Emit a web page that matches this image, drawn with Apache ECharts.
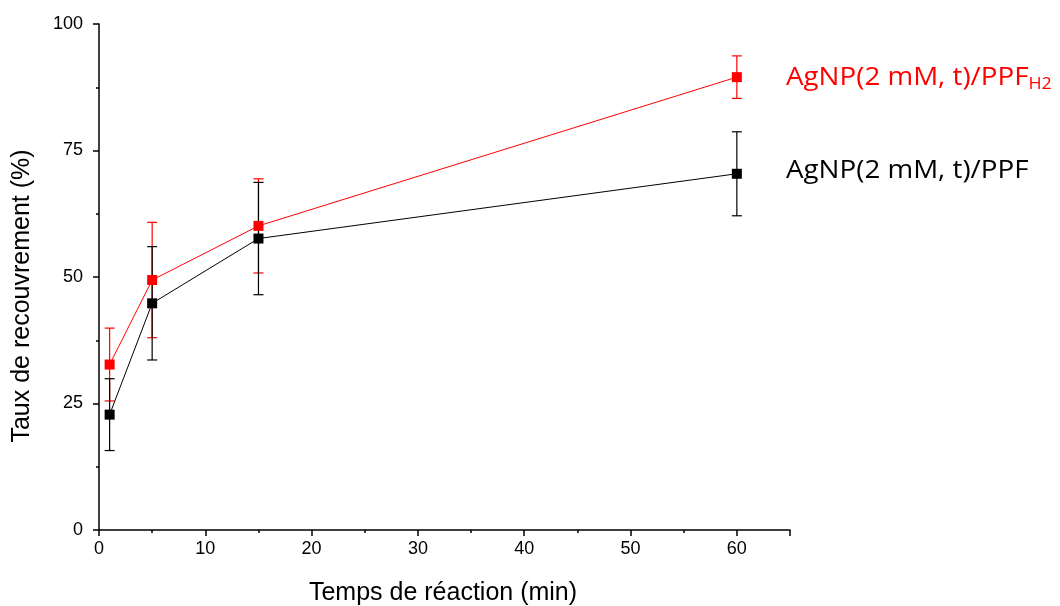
<!DOCTYPE html>
<html><head><meta charset="utf-8">
<script src="https://cdn.jsdelivr.net/npm/echarts@6/dist/echarts.min.js"></script>
<style>html,body{margin:0;padding:0;background:#fff}#c{width:1060px;height:606px}</style>
</head><body><div id="c"></div>
<script>
const times = [1, 5, 15, 60];
const ppfH2 = [32.7, 49.4, 60.1, 89.5];
const ppfH2Err = [7.2, 11.4, 9.3, 4.2];
const ppf = [22.8, 44.8, 57.6, 70.4];
const ppfErr = [7.1, 11.2, 11.1, 8.3];
const xTicks = [0, 10, 20, 30, 40, 50, 60];
const yTicks = [0, 25, 50, 75, 100];
const labelH2 = 'AgNP(2 mM, t)/PPF';
const labelPPF = 'AgNP(2 mM, t)/PPF';
const xTitle = 'Temps de réaction (min)';
const yTitle = 'Taux de recouvrement (%)';

const chart = echarts.init(document.getElementById('c'), null, {renderer: 'canvas'});
const pts = (v) => times.map((t, i) => [t, v[i]]);
const errs = (v, e) => times.map((t, i) => [t, v[i] - e[i], v[i] + e[i]]);
function errItem(color) {
  return function (params, api) {
    const lo = api.coord([api.value(0), api.value(1)]);
    const hi = api.coord([api.value(0), api.value(2)]);
    const w = 5;
    const st = {stroke: color, lineWidth: 1.2};
    return {type: 'group', children: [
      {type: 'line', shape: {x1: lo[0], y1: lo[1], x2: hi[0], y2: hi[1]}, style: st},
      {type: 'line', shape: {x1: lo[0] - w, y1: lo[1], x2: lo[0] + w, y2: lo[1]}, style: st},
      {type: 'line', shape: {x1: hi[0] - w, y1: hi[1], x2: hi[0] + w, y2: hi[1]}, style: st}
    ]};
  };
}
const axisFont = 'Liberation Sans, Arial, sans-serif';
const legFont = 'Open Sans';
chart.setOption({
  animation: false,
  grid: {left: 99, top: 24, right: 270, bottom: 76},
  xAxis: {
    type: 'value', min: 0, max: 65, interval: 10,
    axisLine: {show: true, onZero: false, lineStyle: {color: '#000', width: 1.5}},
    axisTick: {show: true, length: 6, lineStyle: {color: '#000', width: 1.5}},
    minorTick: {show: true, splitNumber: 2, length: 3, lineStyle: {color: '#000', width: 1.5}},
    splitLine: {show: false},
    axisLabel: {fontFamily: axisFont, fontSize: 18, color: '#000', margin: 10,
      formatter: (v) => xTicks.includes(v) ? String(v) : ''}
  },
  yAxis: {
    type: 'value', min: 0, max: 100, interval: 25,
    axisLine: {show: true, onZero: false, lineStyle: {color: '#000', width: 1.5}},
    axisTick: {show: true, length: 6, lineStyle: {color: '#000', width: 1.5}},
    minorTick: {show: true, splitNumber: 2, length: 3, lineStyle: {color: '#000', width: 1.5}},
    splitLine: {show: false},
    axisLabel: {fontFamily: axisFont, fontSize: 18, color: '#000', margin: 16,
      formatter: (v) => yTicks.includes(v) ? String(v) : ''}
  },
  series: [
    {type: 'custom', renderItem: errItem('#ff0000'), data: errs(ppfH2, ppfH2Err), z: 2},
    {type: 'custom', renderItem: errItem('#000000'), data: errs(ppf, ppfErr), z: 2},
    {type: 'line', data: pts(ppfH2), symbol: 'rect', symbolSize: 10,
      lineStyle: {color: '#ff0000', width: 1}, itemStyle: {color: '#ff0000'}, z: 3},
    {type: 'line', data: pts(ppf), symbol: 'rect', symbolSize: 10,
      lineStyle: {color: '#000000', width: 1}, itemStyle: {color: '#000000'}, z: 4}
  ],
  graphic: [
    {type: 'text', x: 443, y: 593, style: {
      text: xTitle, fontFamily: axisFont, fontSize: 25, fill: '#000', align: 'center', verticalAlign: 'middle'}},
    {type: 'text', x: 22, y: 296, rotation: Math.PI / 2, style: {
      text: yTitle, fontFamily: axisFont, fontSize: 25, fill: '#000', align: 'center', verticalAlign: 'middle'}},
    {type: 'text', x: 786, y: 78, scaleX: 1.11, style: {
      text: '{a|' + labelH2 + '}{s|H2}', verticalAlign: 'middle',
      rich: {
        a: {fontFamily: legFont, fontSize: 25, fill: '#ff0000', lineHeight: 32},
        s: {fontFamily: legFont, fontSize: 16, fill: '#ff0000', lineHeight: 32, padding: [12, 0, 0, 0]}
      }}},
    {type: 'text', x: 786, y: 171, scaleX: 1.11, style: {
      text: labelPPF, fontFamily: legFont, fontSize: 25, fill: '#000', verticalAlign: 'middle'}}
  ]
});
</script></body></html>
